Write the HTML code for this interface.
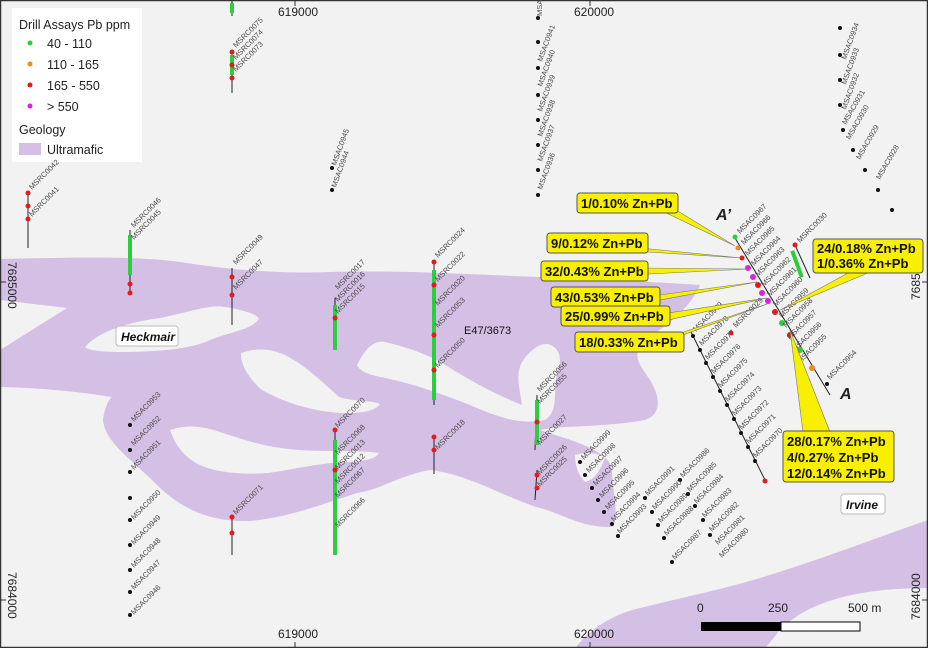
<!DOCTYPE html>
<html><head><meta charset="utf-8"><style>
body{margin:0;background:#fff}
svg{display:block;font-family:"Liberation Sans",sans-serif}
.l{font-size:7.5px;fill:#4a4a4a}
.c{font-size:13px;font-weight:bold;fill:#111}
</style></head><body>
<svg width="928" height="648" viewBox="0 0 928 648">
<rect x="0" y="0" width="928" height="648" fill="#f2f2f2"/>
<path fill="#d4bfe5" fill-rule="evenodd" d="M0,259 C60,258 130,255 180,262 C230,270 280,274 330,272 C400,270 460,274 540,277 C600,280 660,282 700,285 C690,310 660,330 645,340 C630,355 640,365 650,380 C662,400 660,415 645,420 C600,428 560,425 540,430 C570,440 610,450 612,470 C612,490 620,515 612,527 C580,528 560,512 536,507 C500,495 470,475 430,470 C400,475 380,490 357,493 C320,505 290,517 250,521 C210,522 180,510 150,478 C125,455 105,440 103,420 C105,405 110,398 112,397 C80,392 45,388 0,387 Z
M0,300 L67,308 L0,350 Z
M85,347 C100,330 130,322 160,318 C190,312 210,304 225,307 C245,310 262,316 258,320 C250,330 230,332 210,340 C190,350 150,352 120,352 C100,352 88,350 85,347 Z
M241,353 C255,348 270,348 285,355 C305,365 320,380 339,397 C355,402 372,400 380,404 C375,412 355,415 330,412 C300,408 280,400 262,390 C250,380 240,365 241,353 Z
M357,365 C365,350 372,340 385,342 C410,348 430,355 450,368 C470,380 490,392 522,405 C520,390 515,375 522,362 C530,350 540,343 548,344 C560,348 562,358 558,370 C552,390 560,410 545,420 C520,425 500,418 470,405 C440,393 410,383 385,378 C370,375 360,372 357,365 Z
M170,430 C185,425 200,425 220,432 C250,442 270,448 300,450 C330,452 360,450 379,453 C375,460 360,462 340,462 C310,465 290,470 268,473 C240,475 215,472 200,465 C185,458 175,445 170,430 Z
M575,455 C585,452 598,452 605,458 C600,470 595,480 585,482 C578,475 575,465 575,455 Z"/>
<path fill="#d4bfe5" d="M575,648 C590,630 610,615 640,608 C680,598 720,590 760,578 C820,560 870,540 928,520 L928,588 C900,588 870,590 843,597 C815,604 795,615 780,630 C772,640 768,645 765,648 Z"/>
<rect x="0.5" y="0.5" width="927" height="647" fill="none" stroke="#333" stroke-width="1.5"/>
<g stroke="#333" stroke-width="1">
<line x1="295" y1="0" x2="295" y2="6"/><line x1="590" y1="0" x2="590" y2="6"/>
<line x1="295" y1="642" x2="295" y2="648"/><line x1="590" y1="642" x2="590" y2="648"/>
<line x1="0" y1="282" x2="6" y2="282"/><line x1="922" y1="282" x2="928" y2="282"/>
<line x1="0" y1="600" x2="6" y2="600"/><line x1="922" y1="600" x2="928" y2="600"/>
</g>
<g font-size="12" fill="#222">
<text x="278" y="16">619000</text><text x="574" y="16">620000</text>
<text x="278" y="638">619000</text><text x="574" y="638">620000</text>
<text transform="translate(8,262) rotate(90)">7685000</text>
<text transform="translate(8,572) rotate(90)">7684000</text>
<text transform="translate(920,300) rotate(-90)">7685000</text>
<text transform="translate(920,620) rotate(-90)">7684000</text>
</g>
<rect x="12" y="8" width="130" height="154" fill="#fff"/>
<g font-size="12.5" fill="#222">
<text x="19" y="29">Drill Assays Pb ppm</text>
<circle cx="30" cy="43" r="2.5" fill="#2ecc40"/><text x="47" y="48">40 - 110</text>
<circle cx="30" cy="64" r="2.5" fill="#f08a1c"/><text x="47" y="69">110 - 165</text>
<circle cx="30" cy="85" r="2.5" fill="#e41a1c"/><text x="47" y="90">165 - 550</text>
<circle cx="30" cy="106" r="2.5" fill="#e020e0"/><text x="47" y="111">&gt; 550</text>
<text x="19" y="134">Geology</text>
<rect x="19" y="143" width="22" height="12" fill="#d4bfe5"/><text x="47" y="154">Ultramafic</text>
</g>
<g stroke="#222" stroke-width="1">
<line x1="232" y1="0" x2="232" y2="16"/><line x1="232" y1="50" x2="232" y2="93"/>
<line x1="28" y1="193" x2="28" y2="248"/><line x1="130" y1="230" x2="130" y2="295"/>
<line x1="232" y1="268" x2="232" y2="325"/><line x1="335" y1="298" x2="335" y2="350"/>
<line x1="434" y1="262" x2="434" y2="405"/><line x1="434" y1="437" x2="434" y2="474"/>
<line x1="537" y1="395" x2="535" y2="450"/><line x1="537" y1="470" x2="535" y2="500"/>
<line x1="335" y1="430" x2="335" y2="555"/><line x1="232" y1="517" x2="232" y2="555"/>
<line x1="735" y1="238" x2="830" y2="395"/><line x1="690" y1="330" x2="765" y2="480"/>
<line x1="795" y1="245" x2="810" y2="278"/>
</g>
<g fill="#2ecc40">
<rect x="230" y="3" width="4" height="10"/><rect x="128" y="235" width="4" height="40"/>
<rect x="333" y="305" width="4" height="45"/><rect x="432" y="270" width="4" height="130"/>
<rect x="535" y="400" width="4" height="45"/><rect x="333" y="440" width="4" height="115"/>
<rect x="230" y="55" width="4" height="20"/>
</g>
<g fill="#e41a1c">
<circle cx="232" cy="52" r="2.5"/><circle cx="232" cy="65" r="2.5"/><circle cx="232" cy="78" r="2.5"/>
<circle cx="28" cy="193" r="2.5"/><circle cx="28" cy="206" r="2.5"/><circle cx="28" cy="219" r="2.5"/>
<circle cx="130" cy="284" r="2.5"/><circle cx="130" cy="293" r="2.5"/><circle cx="232" cy="277" r="2.5"/><circle cx="232" cy="295" r="2.5"/>
<circle cx="335" cy="318" r="2.5"/><circle cx="434" cy="262" r="2.5"/><circle cx="434" cy="285" r="2.5"/><circle cx="434" cy="335" r="2.5"/><circle cx="434" cy="370" r="2.5"/>
<circle cx="434" cy="437" r="2.5"/><circle cx="434" cy="450" r="2.5"/><circle cx="537" cy="422" r="2.5"/><circle cx="537" cy="475" r="2.5"/><circle cx="537" cy="488" r="2.5"/>
<circle cx="335" cy="430" r="2.5"/><circle cx="335" cy="470" r="2.5"/><circle cx="232" cy="517" r="2.5"/><circle cx="232" cy="533" r="2.5"/>
<circle cx="795" cy="245" r="2.5"/><circle cx="765" cy="481" r="2.5"/><circle cx="731" cy="333" r="2.5"/>
</g>
<g fill="#111">
<circle cx="130" cy="425" r="2"/><circle cx="130" cy="450" r="2"/><circle cx="130" cy="472" r="2"/><circle cx="130" cy="498" r="2"/><circle cx="130" cy="520" r="2"/><circle cx="130" cy="545" r="2"/><circle cx="130" cy="570" r="2"/><circle cx="130" cy="592" r="2"/><circle cx="130" cy="615" r="2"/>
<circle cx="538" cy="18" r="2"/><circle cx="538" cy="42" r="2"/><circle cx="538" cy="68" r="2"/><circle cx="538" cy="95" r="2"/><circle cx="538" cy="120" r="2"/><circle cx="538" cy="145" r="2"/><circle cx="538" cy="170" r="2"/><circle cx="538" cy="195" r="2"/>
<circle cx="332" cy="168" r="2"/><circle cx="332" cy="190" r="2"/>
<circle cx="840" cy="28" r="2"/><circle cx="840" cy="55" r="2"/><circle cx="840" cy="80" r="2"/><circle cx="840" cy="105" r="2"/><circle cx="843" cy="130" r="2"/><circle cx="853" cy="150" r="2"/><circle cx="865" cy="170" r="2"/><circle cx="878" cy="190" r="2"/><circle cx="892" cy="210" r="2"/>
<circle cx="580" cy="462" r="2"/><circle cx="585" cy="475" r="2"/><circle cx="592" cy="488" r="2"/><circle cx="598" cy="500" r="2"/><circle cx="604" cy="512" r="2"/><circle cx="612" cy="524" r="2"/><circle cx="618" cy="536" r="2"/>
<circle cx="645" cy="498" r="2"/><circle cx="652" cy="512" r="2"/><circle cx="658" cy="525" r="2"/><circle cx="664" cy="538" r="2"/><circle cx="672" cy="562" r="2"/>
<circle cx="680" cy="480" r="2"/><circle cx="688" cy="494" r="2"/><circle cx="695" cy="506" r="2"/><circle cx="703" cy="520" r="2"/><circle cx="710" cy="535" r="2"/>
<circle cx="693" cy="336" r="2"/><circle cx="700" cy="350" r="2"/><circle cx="706" cy="363" r="2"/><circle cx="713" cy="377" r="2"/><circle cx="720" cy="391" r="2"/><circle cx="727" cy="405" r="2"/><circle cx="734" cy="419" r="2"/><circle cx="741" cy="433" r="2"/><circle cx="748" cy="447" r="2"/><circle cx="755" cy="461" r="2"/>
<circle cx="827" cy="384" r="2"/>
</g>
<g>
<circle cx="735" cy="237" r="2.5" fill="#2ecc40"/><circle cx="738" cy="248" r="2.5" fill="#f08a1c"/><circle cx="742" cy="258" r="2.5" fill="#e41a1c"/>
<circle cx="748" cy="268" r="3" fill="#e020e0"/><circle cx="753" cy="277" r="3" fill="#e020e0"/><circle cx="758" cy="285" r="3" fill="#e41a1c"/><circle cx="762" cy="293" r="3" fill="#e020e0"/>
<circle cx="768" cy="301" r="3" fill="#e020e0"/><circle cx="775" cy="312" r="3" fill="#e41a1c"/><circle cx="782" cy="323" r="3" fill="#2ecc40"/><circle cx="790" cy="335" r="3" fill="#e41a1c"/><circle cx="800" cy="350" r="3" fill="#2ecc40"/><circle cx="812" cy="368" r="3" fill="#f08a1c"/>
<rect x="795" y="250" width="4" height="28" fill="#2ecc40" transform="rotate(-20 797 264)"/>
</g>
<g class="l">
<text transform="translate(236,48) rotate(-45)">MSRC0075</text><text transform="translate(236,60) rotate(-45)">MSRC0074</text><text transform="translate(236,72) rotate(-45)">MSRC0073</text>
<text transform="translate(32,190) rotate(-45)">MSRC0042</text><text transform="translate(32,217) rotate(-45)">MSRC0041</text>
<text transform="translate(134,228) rotate(-45)">MSRC0046</text><text transform="translate(134,240) rotate(-45)">MSRC0045</text>
<text transform="translate(236,265) rotate(-45)">MSRC0049</text><text transform="translate(236,290) rotate(-45)">MSRC0047</text>
<text transform="translate(338,290) rotate(-45)">MSRC0017</text><text transform="translate(338,302) rotate(-45)">MSRC0016</text><text transform="translate(338,314) rotate(-45)">MSRC0015</text>
<text transform="translate(438,258) rotate(-45)">MSRC0024</text><text transform="translate(438,282) rotate(-45)">MSRC0022</text><text transform="translate(438,306) rotate(-45)">MSRC0020</text><text transform="translate(438,328) rotate(-45)">MSRC0053</text><text transform="translate(438,368) rotate(-45)">MSRC0050</text><text transform="translate(438,450) rotate(-45)">MSRC0018</text>
<text transform="translate(540,392) rotate(-45)">MSRC0056</text><text transform="translate(540,404) rotate(-45)">MSRC0055</text><text transform="translate(540,445) rotate(-45)">MSRC0027</text>
<text transform="translate(540,475) rotate(-45)">MSRC0026</text><text transform="translate(540,487) rotate(-45)">MSRC0025</text>
<text transform="translate(338,428) rotate(-45)">MSRC0070</text><text transform="translate(338,455) rotate(-45)">MSRC0068</text><text transform="translate(338,470) rotate(-45)">MSRC0013</text><text transform="translate(338,484) rotate(-45)">MSRC0012</text><text transform="translate(338,498) rotate(-45)">MSRC0067</text><text transform="translate(338,528) rotate(-45)">MSRC0066</text>
<text transform="translate(236,515) rotate(-45)">MSRC0071</text>
<text transform="translate(134,422) rotate(-45)">MSAC0953</text><text transform="translate(134,446) rotate(-45)">MSAC0952</text><text transform="translate(134,470) rotate(-45)">MSAC0951</text><text transform="translate(134,520) rotate(-45)">MSAC0950</text><text transform="translate(134,545) rotate(-45)">MSAC0949</text><text transform="translate(134,568) rotate(-45)">MSAC0948</text><text transform="translate(134,590) rotate(-45)">MSAC0947</text><text transform="translate(134,615) rotate(-45)">MSAC0946</text>
<text transform="translate(542,16) rotate(-90)">MSAC0942</text>
<text transform="translate(542,62) rotate(-70)">MSAC0941</text><text transform="translate(542,87) rotate(-70)">MSAC0940</text><text transform="translate(542,112) rotate(-70)">MSAC0939</text><text transform="translate(542,137) rotate(-70)">MSAC0938</text><text transform="translate(542,162) rotate(-70)">MSAC0937</text><text transform="translate(542,190) rotate(-70)">MSAC0936</text>
<text transform="translate(336,166) rotate(-70)">MSAC0945</text><text transform="translate(336,188) rotate(-70)">MSAC0944</text>
<text transform="translate(846,60) rotate(-70)">MSAC0934</text><text transform="translate(846,85) rotate(-70)">MSAC0933</text><text transform="translate(846,110) rotate(-70)">MSAC0932</text><text transform="translate(846,125) rotate(-60)">MSAC0931</text><text transform="translate(850,140) rotate(-60)">MSAC0930</text><text transform="translate(860,160) rotate(-60)">MSAC0929</text><text transform="translate(880,180) rotate(-60)">MSAC0928</text>
<text transform="translate(740,234) rotate(-45)">MSAC0967</text><text transform="translate(744,245) rotate(-45)">MSAC0966</text><text transform="translate(748,256) rotate(-45)">MSAC0965</text><text transform="translate(754,266) rotate(-45)">MSAC0964</text><text transform="translate(758,277) rotate(-45)">MSAC0963</text><text transform="translate(764,287) rotate(-45)">MSAC0962</text><text transform="translate(770,297) rotate(-45)">MSAC0961</text><text transform="translate(776,307) rotate(-45)">MSAC0960</text><text transform="translate(782,318) rotate(-45)">MSAC0959</text><text transform="translate(786,328) rotate(-45)">MSAC0958</text><text transform="translate(790,340) rotate(-45)">MSAC0957</text><text transform="translate(795,352) rotate(-45)">MSAC0956</text><text transform="translate(800,364) rotate(-45)">MSAC0955</text><text transform="translate(830,380) rotate(-45)">MSAC0954</text>
<text transform="translate(800,243) rotate(-45)">MSRC0030</text><text transform="translate(736,328) rotate(-45)">MSRC0029</text>
<text transform="translate(696,332) rotate(-45)">MSAC0979</text><text transform="translate(702,346) rotate(-45)">MSAC0978</text><text transform="translate(708,360) rotate(-45)">MSAC0977</text><text transform="translate(714,374) rotate(-45)">MSAC0976</text><text transform="translate(721,388) rotate(-45)">MSAC0975</text><text transform="translate(728,402) rotate(-45)">MSAC0974</text><text transform="translate(735,416) rotate(-45)">MSAC0973</text><text transform="translate(742,430) rotate(-45)">MSAC0972</text><text transform="translate(749,444) rotate(-45)">MSAC0971</text><text transform="translate(756,458) rotate(-45)">MSAC0970</text>
<text transform="translate(584,460) rotate(-45)">MSAC0999</text><text transform="translate(589,473) rotate(-45)">MSAC0998</text><text transform="translate(596,486) rotate(-45)">MSAC0997</text><text transform="translate(602,498) rotate(-45)">MSAC0996</text><text transform="translate(608,510) rotate(-45)">MSAC0995</text><text transform="translate(614,522) rotate(-45)">MSAC0994</text><text transform="translate(620,534) rotate(-45)">MSAC0993</text>
<text transform="translate(648,496) rotate(-45)">MSAC0991</text><text transform="translate(655,510) rotate(-45)">MSAC0990</text><text transform="translate(661,523) rotate(-45)">MSAC0989</text><text transform="translate(667,536) rotate(-45)">MSAC0988</text><text transform="translate(675,560) rotate(-45)">MSAC0987</text>
<text transform="translate(683,478) rotate(-45)">MSAC0986</text><text transform="translate(690,492) rotate(-45)">MSAC0985</text><text transform="translate(697,504) rotate(-45)">MSAC0984</text><text transform="translate(705,518) rotate(-45)">MSAC0983</text><text transform="translate(712,532) rotate(-45)">MSAC0982</text><text transform="translate(718,545) rotate(-45)">MSAC0981</text><text transform="translate(722,558) rotate(-45)">MSAC0980</text>
</g>
<rect x="116" y="326" width="62" height="20" rx="3" fill="#fff" stroke="#bbb"/>
<text x="121" y="341" font-size="12" font-weight="bold" font-style="italic" fill="#111">Heckmair</text>
<rect x="841" y="494" width="44" height="20" rx="3" fill="#fff" stroke="#bbb"/>
<text x="846" y="509" font-size="12" font-weight="bold" font-style="italic" fill="#111">Irvine</text>
<text x="464" y="334" font-size="11" fill="#111">E47/3673</text>
<text x="716" y="220" font-size="16" font-weight="bold" font-style="italic" fill="#222">A’</text>
<text x="840" y="399" font-size="16" font-weight="bold" font-style="italic" fill="#222">A</text>
<g fill="#f8f000" stroke="#777" stroke-width="0.6">
<polygon points="660,210 676,210 735,246"/>
<polygon points="640,248 648,252 742,258"/>
<polygon points="640,268 648,274 750,269"/>
<polygon points="652,296 660,300 757,282"/>
<polygon points="662,314 668,320 767,298"/>
<polygon points="660,340 680,336 770,303"/>
<polygon points="850,272 870,272 780,310"/>
<polygon points="803,432 830,432 790,330"/>
</g>
<g fill="#f8f000" stroke="#555" stroke-width="1">
<rect x="577" y="193" width="101" height="20" rx="3"/>
<rect x="547" y="233" width="101" height="20" rx="3"/>
<rect x="541" y="261" width="107" height="20" rx="3"/>
<rect x="551" y="287" width="109" height="20" rx="3"/>
<rect x="561" y="306" width="109" height="20" rx="3"/>
<rect x="575" y="332" width="109" height="20" rx="3"/>
<rect x="813" y="239" width="110" height="34" rx="3"/>
<rect x="783" y="431" width="111" height="51" rx="3"/>
</g>
<g class="c">
<text x="581" y="208">1/0.10% Zn+Pb</text>
<text x="551" y="248">9/0.12% Zn+Pb</text>
<text x="545" y="276">32/0.43% Zn+Pb</text>
<text x="555" y="302">43/0.53% Zn+Pb</text>
<text x="565" y="321">25/0.99% Zn+Pb</text>
<text x="579" y="347">18/0.33% Zn+Pb</text>
<text x="817" y="253">24/0.18% Zn+Pb</text>
<text x="817" y="268">1/0.36% Zn+Pb</text>
<text x="787" y="446">28/0.17% Zn+Pb</text>
<text x="787" y="462">4/0.27% Zn+Pb</text>
<text x="787" y="478">12/0.14% Zn+Pb</text>
</g>
<g font-size="12" fill="#222">
<text x="697" y="612">0</text><text x="768" y="612">250</text><text x="848" y="612">500 m</text>
</g>
<rect x="701" y="622" width="80" height="9" fill="#000"/>
<rect x="781" y="622" width="79" height="9" fill="#fff" stroke="#000"/>
</svg>
</body></html>
